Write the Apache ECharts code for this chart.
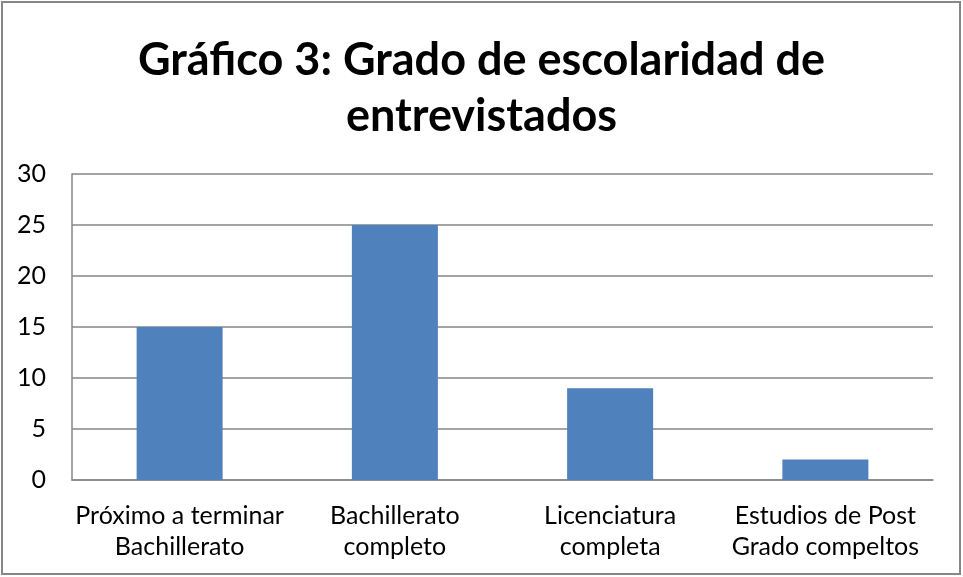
<!DOCTYPE html>
<html>
<head>
<meta charset="utf-8">
<script src="https://cdn.jsdelivr.net/npm/echarts@6/dist/echarts.min.js"></script>
<style>
  html, body { margin: 0; padding: 0; background: #fff; }
  #chart { width: 963px; height: 577px; }
</style>
</head>
<body>
<div id="chart"></div>
<script>
// data
const categories = [
  'Próximo a terminar\nBachillerato',
  'Bachillerato\ncompleto',
  'Licenciatura\ncompleta',
  'Estudios de Post\nGrado compeltos'
]
const counts = [15, 25, 9, 2]

const chart = echarts.init(document.getElementById('chart'))

const option = {
  animation: false,
  backgroundColor: '#fff',
  title: {
    text: 'Gráfico 3: Grado de escolaridad de\nentrevistados',
    left: 'center',
    top: 27,
    textStyle: { fontFamily: 'Lato', fontSize: 45, fontWeight: 'bold', color: '#000', lineHeight: 56 }
  },
  graphic: [{
    type: 'rect',
    shape: { x: 2, y: 2, width: 958, height: 572 },
    style: { fill: 'none', stroke: '#868686', lineWidth: 2 },
    silent: true
  }],
  grid: { left: 72, right: 30, top: 174, bottom: 97 },
  xAxis: {
    type: 'category',
    data: categories,
    axisLine: { lineStyle: { color: '#868686', width: 1.5 } },
    axisTick: { show: false },
    axisLabel: { fontFamily: 'Lato', fontSize: 25, color: '#000', lineHeight: 31, margin: 20, interval: 0 }
  },
  yAxis: {
    type: 'value',
    min: 0,
    max: 30,
    interval: 5,
    axisLine: { show: true, lineStyle: { color: '#868686', width: 1.5 } },
    axisTick: { show: false },
    splitLine: { lineStyle: { color: '#868686', width: 1.5 } },
    axisLabel: { fontFamily: 'Lato', fontSize: 25, color: '#000', margin: 26 }
  },
  series: [{
    type: 'bar',
    data: counts,
    barWidth: 86,
    itemStyle: { color: '#4F81BD' }
  }]
}

chart.setOption(option)
</script>
</body>
</html>
